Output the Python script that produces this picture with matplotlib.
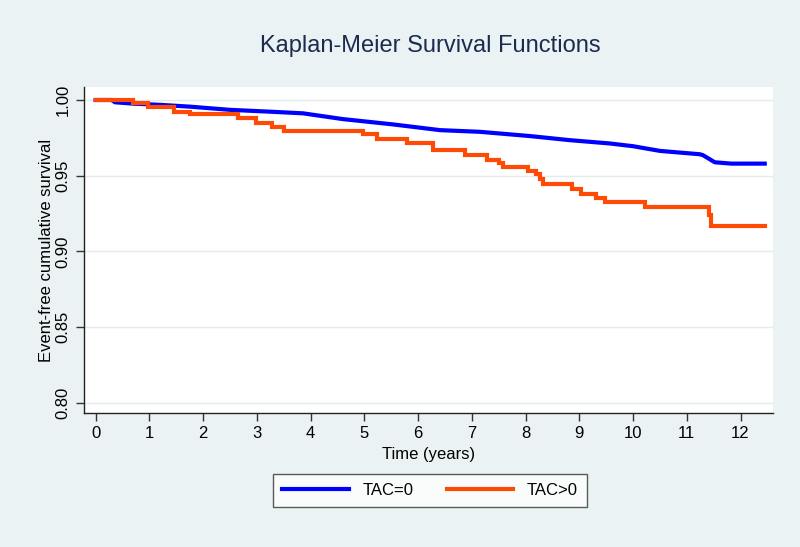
import matplotlib
matplotlib.use("Agg")
import matplotlib.pyplot as plt

# TAC=0 (blau) - viele kleine Stufen, wirkt fast glatt -> als Linie
t_tac0 = [0, 0.30, 0.36, 0.70, 1.20, 1.76, 2.50, 3.24, 3.86, 4.60, 5.53, 6.41,
          7.15, 8.08, 8.82, 9.57, 10.00, 10.50, 11.24, 11.30, 11.52, 11.83, 12.45]
s_tac0 = [1.000, 1.000, 0.9985, 0.9976, 0.9968, 0.9956, 0.9935, 0.9923, 0.9912,
          0.9874, 0.9839, 0.9801, 0.9790, 0.9762, 0.9735, 0.9713, 0.9695, 0.9664,
          0.9642, 0.9636, 0.9589, 0.9580, 0.9580]

# TAC>0 (orange) - Treppenfunktion
t_tac1 = [0, 0.70, 0.98, 1.45, 1.76, 2.65, 2.98, 3.29, 3.50, 4.98, 5.23, 5.79,
          6.28, 6.87, 7.29, 7.51, 7.58, 8.05, 8.20, 8.27, 8.32, 8.86, 9.04, 9.31,
          9.48, 10.22, 11.42, 11.45, 12.45]
s_tac1 = [1.000, 0.9978, 0.9952, 0.9923, 0.9905, 0.9879, 0.9850, 0.9823, 0.9795,
          0.9773, 0.9740, 0.9717, 0.9669, 0.9636, 0.9607, 0.9585, 0.9555, 0.9530,
          0.9510, 0.9481, 0.9444, 0.9411, 0.9382, 0.9356, 0.9327, 0.9293, 0.9238,
          0.9166, 0.9166]

x_ticks = list(range(0, 13))
y_ticks = [0.80, 0.85, 0.90, 0.95, 1.00]

bg = "#eaf2f3"
plt.rcParams["font.family"] = ["Liberation Sans", "DejaVu Sans"]

fig = plt.figure(figsize=(8.0, 5.47), dpi=100, facecolor=bg)
ax = fig.add_axes([0.105, 0.245, 0.861, 0.596])
ax.set_facecolor("white")

ax.plot(t_tac0, s_tac0, color="#0000ff", lw=3.0, label="TAC=0")
ax.plot(t_tac1, s_tac1, drawstyle="steps-post", color="#ff4a05", lw=3.0,
        label="TAC>0", solid_joinstyle="miter")

ax.set_xlim(-0.216, 12.6)
ax.set_ylim(0.7934, 1.0086)
ax.set_xticks(x_ticks)
ax.set_yticks(y_ticks)
ax.set_yticklabels([f"{v:.2f}" for v in y_ticks], rotation=90, va="center")
ax.tick_params(axis="both", labelsize=12, length=6, width=1, color="#333333",
               direction="out")
ax.grid(True, axis="y", color="#e4ecee", lw=1)
ax.set_axisbelow(True)

for side in ["top", "right"]:
    ax.spines[side].set_visible(False)
for side in ["left", "bottom"]:
    ax.spines[side].set_color("#222222")
    ax.spines[side].set_linewidth(1)

ax.set_xlabel("Time (years)", fontsize=12, labelpad=4)
ax.set_ylabel("Event-free cumulative survival", fontsize=12, labelpad=1)

fig.text(0.5375, 0.916, "Kaplan-Meier Survival Functions", ha="center",
         va="center", fontsize=17, color="#1c2b4f")

leg = fig.legend(loc="center", bbox_to_anchor=(0.5375, 0.103), ncol=2,
                 fontsize=12, handlelength=4.0, columnspacing=2.0,
                 handletextpad=0.8, frameon=True, fancybox=False,
                 borderpad=0.55)
leg.get_frame().set_edgecolor("#333333")
leg.get_frame().set_linewidth(1)

fig.savefig("out.png", dpi=100, facecolor=bg)
